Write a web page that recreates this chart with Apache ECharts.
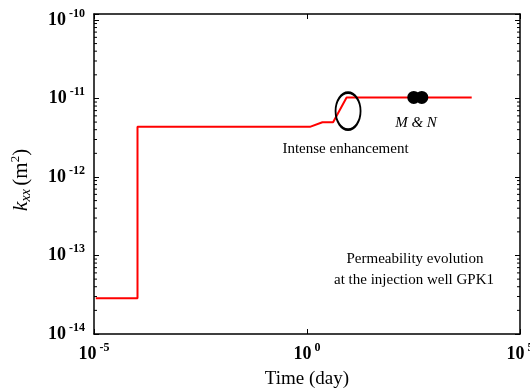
<!DOCTYPE html>
<html>
<head>
<meta charset="utf-8">
<script src="https://cdn.jsdelivr.net/npm/echarts@6/dist/echarts.min.js"></script>
<style>
    html, body { margin: 0; padding: 0; background: #fff; }
    #chart { width: 530px; height: 390px; }
</style>
</head>
<body>
<div id="chart"></div>
<script>
    // permeability history at GPK1 (time in days, k in m2)
    var timeDays = [1.1e-5, 1.05e-4, 1.05e-4, 1.17, 2.3, 4.1, 8.5, 7350];
    var kxx      = [2.85e-14, 2.85e-14, 4.35e-12, 4.35e-12, 4.98e-12, 4.98e-12, 1.03e-11, 1.03e-11];
    // M & N points
    var mnTime = [321, 495];
    var mnK    = [1.03e-11, 1.03e-11];
    // ellipse marking the intense enhancement
    var ellipseAt = [9.2, 6.9e-12];

    var xMin = 1e-5, xMax = 1e5;
    var yMin = 1e-14, yMax = 1.19e-10;
    var yDecades = [-14, -13, -12, -11, -10];

    var serif = 'Liberation Serif';

    // log-spaced minor ticks on the y axis
    var minorTicks = [];
    yDecades.forEach(function (e) {
        for (var m = 2; m <= 9; m++) {
            var v = m * Math.pow(10, e);
            if (v < yMax) minorTicks.push(v);
        }
    });

    function powLabel(value) {
        var lg = Math.log10(value);
        var e = Math.round(lg);
        if (Math.abs(lg - e) > 1e-6) return '';
        return '{b|10}{s|' + e + '}';
    }
    var labelRich = {
        b: {fontFamily: serif, fontSize: 18, fontWeight: 'bold', color: '#000'},
        s: {fontFamily: serif, fontSize: 12, fontWeight: 'bold', color: '#000', padding: [0, 0, 13, 3]}
    };
    var axisLine = {show: true, lineStyle: {color: '#000', width: 1.5}};

    var chart = echarts.init(document.getElementById('chart'));

    var lineData = timeDays.map(function (t, i) { return [t, kxx[i]]; });
    var mnData = mnTime.map(function (t, i) { return [t, mnK[i]]; });

    var option = {
        animation: false,
        backgroundColor: '#fff',
        grid: {left: 94, right: 10, top: 14, bottom: 56, containLabel: false, outerBoundsMode: 'none'},
        xAxis: [{
            type: 'log',
            logBase: 100000,
            min: xMin,
            max: xMax,
            name: 'Time (day)',
            nameLocation: 'middle',
            nameGap: 36,
            nameTextStyle: {fontFamily: serif, fontSize: 19, color: '#000'},
            axisLine: axisLine,
            axisTick: {show: true, inside: true, length: 5, lineStyle: {color: '#000'}},
            axisLabel: {formatter: powLabel, rich: labelRich, margin: 8},
            splitLine: {show: false},
            minorTick: {show: false}
        }, {
            type: 'log',
            logBase: 100000,
            min: xMin,
            max: xMax,
            position: 'top',
            axisLine: axisLine,
            axisTick: {show: true, inside: true, length: 5, lineStyle: {color: '#000'}},
            axisLabel: {show: false},
            splitLine: {show: false}
        }],
        yAxis: [{
            type: 'log',
            min: yMin,
            max: yMax,
            name: '{k|k}{sub|xx} {p|(m}{sup|2}{p|)}',
            nameLocation: 'middle',
            nameGap: 60,
            nameTextStyle: {
                padding: [0, 12, 0, 0],
                rich: {
                    k: {fontFamily: serif, fontSize: 22, fontStyle: 'italic', color: '#000'},
                    sub: {fontFamily: serif, fontSize: 14, fontStyle: 'italic', color: '#000', padding: [9, 0, 0, 0]},
                    p: {fontFamily: serif, fontSize: 21, color: '#000'},
                    sup: {fontFamily: serif, fontSize: 13, color: '#000', padding: [0, 0, 12, 0]}
                }
            },
            axisLine: axisLine,
            axisTick: {show: true, inside: true, length: 5, lineStyle: {color: '#000'}},
            axisLabel: {formatter: powLabel, rich: labelRich, margin: 9},
            splitLine: {show: false}
        }, {
            type: 'log',
            min: yMin,
            max: yMax,
            position: 'right',
            axisLine: axisLine,
            axisTick: {show: true, inside: true, length: 5, lineStyle: {color: '#000'}},
            axisLabel: {show: false},
            splitLine: {show: false}
        }],
        graphic: [
            {type: 'text', x: 345.5, y: 149, style: {text: 'Intense enhancement', font: '15px "Liberation Serif"', fill: '#000', align: 'center', verticalAlign: 'middle'}},
            {type: 'text', x: 416, y: 123, style: {text: 'M & N', font: 'italic 15px "Liberation Serif"', fill: '#000', align: 'center', verticalAlign: 'middle'}},
            {type: 'text', x: 415, y: 259, style: {text: 'Permeability evolution', font: '15px "Liberation Serif"', fill: '#000', align: 'center', verticalAlign: 'middle'}},
            {type: 'text', x: 414, y: 280, style: {text: 'at the injection well GPK1', font: '15px "Liberation Serif"', fill: '#000', align: 'center', verticalAlign: 'middle'}}
        ],
        series: [{
            type: 'line',
            data: lineData,
            symbol: 'none',
            lineStyle: {color: '#ff0000', width: 2},
            z: 3
        }, {
            type: 'scatter',
            data: mnData,
            symbol: 'circle',
            symbolSize: 13,
            itemStyle: {color: '#000', opacity: 1},
            z: 4
        }, {
            type: 'scatter',
            data: [ellipseAt],
            symbol: 'circle',
            symbolSize: [25, 37],
            itemStyle: {color: 'rgba(0,0,0,0)', borderColor: '#000', borderWidth: 2.2, opacity: 1},
            z: 5
        }, {
            type: 'custom',
            data: minorTicks.map(function (v) { return [xMin, v]; }),
            renderItem: function (params, api) {
                var l = api.coord([xMin, api.value(1)]);
                var r = api.coord([xMax, api.value(1)]);
                var st = {stroke: '#000', lineWidth: 1};
                return {
                    type: 'group',
                    children: [
                        {type: 'line', shape: {x1: l[0], y1: l[1], x2: l[0] + 3, y2: l[1]}, style: st},
                        {type: 'line', shape: {x1: r[0], y1: r[1], x2: r[0] - 3, y2: r[1]}, style: st}
                    ]
                };
            },
            silent: true
        }]
    };
    chart.setOption(option);
</script>
</body>
</html>
